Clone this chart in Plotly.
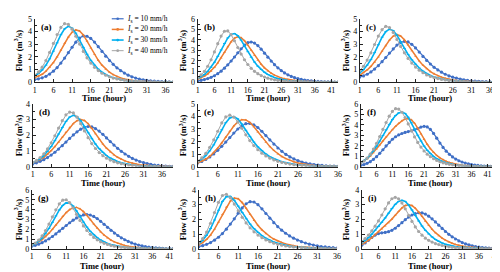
import plotly.graph_objects as go

# ---------------- data (flow, m3/s, hourly from hour 1) ----------------
a_10 = [0.20,0.26,0.34,0.46,0.63,0.86,1.15,1.50,1.90,2.32,2.75,3.15,3.48,3.65,3.62,3.45,3.16,2.80,2.42,2.05,1.70,1.40,1.13,0.90,0.71,0.55,0.42,0.32,0.24,0.18,0.13,0.10,0.07,0.05,0.04,0.03,0.02,0.01]
a_20 = [0.35,0.46,0.62,0.86,1.16,1.54,2.00,2.52,3.06,3.56,3.94,4.12,4.04,3.72,3.24,2.70,2.18,1.72,1.34,1.03,0.78,0.59,0.44,0.33,0.24,0.18,0.13,0.09,0.07,0.05,0.03,0.02,0.02,0.01,0.01,0.01,0.00,0.00]
a_30 = [0.50,0.68,0.96,1.34,1.84,2.44,3.10,3.74,4.20,4.40,4.26,3.86,3.32,2.74,2.20,1.72,1.33,1.02,0.78,0.59,0.45,0.34,0.26,0.19,0.14,0.10,0.07,0.05,0.04,0.03,0.02,0.02,0.01,0.01,0.01,0.00,0.00,0.00]
a_40 = [0.55,0.80,1.18,1.70,2.34,3.05,3.75,4.32,4.62,4.55,4.18,3.62,3.00,2.42,1.92,1.50,1.17,0.91,0.70,0.54,0.42,0.32,0.25,0.19,0.15,0.11,0.08,0.06,0.05,0.04,0.03,0.02,0.02,0.01,0.01,0.01,0.00,0.00]

b_10 = [0.12,0.17,0.24,0.33,0.45,0.60,0.80,1.04,1.32,1.64,2.00,2.38,2.78,3.16,3.50,3.74,3.80,3.70,3.46,3.12,2.74,2.36,1.99,1.65,1.35,1.09,0.87,0.69,0.54,0.42,0.32,0.25,0.19,0.14,0.11,0.08,0.06,0.04,0.03,0.02,0.02,0.01,0.01]
b_20 = [0.28,0.40,0.56,0.78,1.05,1.40,1.82,2.30,2.82,3.35,3.82,4.16,4.30,4.20,3.92,3.50,3.02,2.54,2.09,1.69,1.35,1.07,0.84,0.66,0.51,0.40,0.31,0.24,0.18,0.14,0.10,0.08,0.06,0.04,0.03,0.02,0.02,0.01,0.01,0.01,0.00,0.00,0.00]
b_30 = [0.35,0.50,0.72,1.02,1.40,1.88,2.44,3.05,3.66,4.18,4.52,4.60,4.40,3.98,3.44,2.88,2.36,1.90,1.51,1.19,0.93,0.72,0.56,0.43,0.33,0.25,0.19,0.15,0.11,0.08,0.06,0.05,0.04,0.03,0.02,0.02,0.01,0.01,0.01,0.00,0.00,0.00,0.00]
b_40 = [0.45,0.68,1.02,1.50,2.12,2.86,3.64,4.36,4.82,4.85,4.50,3.92,3.28,2.66,2.12,1.67,1.31,1.02,0.80,0.62,0.48,0.37,0.29,0.22,0.17,0.13,0.10,0.08,0.06,0.05,0.04,0.03,0.02,0.02,0.01,0.01,0.01,0.00,0.00,0.00,0.00,0.00,0.00]

c_10 = [0.40,0.49,0.62,0.80,1.03,1.30,1.61,1.94,2.29,2.62,2.92,3.13,3.22,3.17,2.98,2.70,2.37,2.03,1.71,1.43,1.17,0.96,0.78,0.62,0.49,0.39,0.31,0.24,0.18,0.14,0.10,0.08,0.06,0.04,0.03,0.02,0.02,0.01,0.01]
c_20 = [0.56,0.75,0.96,1.24,1.58,1.99,2.44,2.89,3.32,3.62,3.75,3.64,3.34,2.93,2.48,2.05,1.67,1.34,1.06,0.83,0.65,0.50,0.39,0.30,0.22,0.17,0.13,0.10,0.07,0.05,0.04,0.03,0.02,0.02,0.01,0.01,0.00,0.00,0.00]
c_30 = [0.72,0.98,1.34,1.78,2.33,2.95,3.54,3.98,4.18,4.07,3.70,3.19,2.66,2.18,1.76,1.41,1.11,0.87,0.68,0.53,0.41,0.32,0.24,0.19,0.14,0.11,0.09,0.07,0.04,0.03,0.03,0.02,0.01,0.01,0.01,0.00,0.00,0.00,0.00]
c_40 = [0.90,1.25,1.74,2.31,2.97,3.63,4.14,4.40,4.31,3.92,3.37,2.82,2.31,1.87,1.50,1.19,0.94,0.74,0.57,0.45,0.35,0.28,0.21,0.17,0.12,0.10,0.08,0.06,0.04,0.03,0.02,0.02,0.01,0.01,0.01,0.00,0.00,0.00,0.00]

d_10 = [0.18,0.25,0.34,0.45,0.58,0.74,0.92,1.12,1.34,1.57,1.80,2.02,2.22,2.39,2.51,2.56,2.53,2.43,2.27,2.06,1.83,1.60,1.38,1.17,0.98,0.81,0.66,0.53,0.42,0.33,0.26,0.20,0.15,0.11,0.08,0.06,0.04,0.03,0.02]
d_20 = [0.24,0.33,0.45,0.60,0.79,1.02,1.28,1.57,1.88,2.19,2.49,2.75,2.93,3.00,2.94,2.74,2.44,2.10,1.76,1.45,1.18,0.95,0.76,0.60,0.47,0.37,0.29,0.22,0.17,0.13,0.10,0.07,0.05,0.04,0.03,0.02,0.01,0.01,0.00]
d_30 = [0.25,0.35,0.50,0.70,0.96,1.28,1.66,2.08,2.50,2.88,3.16,3.27,3.18,2.92,2.56,2.16,1.78,1.44,1.15,0.91,0.71,0.55,0.43,0.33,0.25,0.19,0.15,0.11,0.08,0.06,0.05,0.04,0.03,0.02,0.01,0.01,0.01,0.00,0.00]
d_40 = [0.28,0.40,0.58,0.82,1.13,1.52,1.97,2.46,2.93,3.30,3.48,3.42,3.15,2.74,2.28,1.85,1.47,1.16,0.90,0.70,0.54,0.42,0.32,0.25,0.19,0.15,0.11,0.09,0.07,0.05,0.04,0.03,0.02,0.02,0.01,0.01,0.01,0.00,0.00]

e_10 = [0.30,0.42,0.58,0.78,1.02,1.30,1.62,1.96,2.32,2.68,3.00,3.26,3.42,3.45,3.34,3.12,2.82,2.48,2.13,1.80,1.49,1.22,0.98,0.78,0.62,0.48,0.37,0.29,0.22,0.17,0.13,0.10,0.07,0.05,0.04,0.03]
e_20 = [0.30,0.42,0.59,0.82,1.12,1.48,1.90,2.36,2.82,3.24,3.56,3.74,3.72,3.52,3.18,2.78,2.36,1.96,1.60,1.29,1.03,0.81,0.64,0.50,0.39,0.30,0.23,0.18,0.14,0.10,0.08,0.06,0.04,0.03,0.02,0.02]
e_30 = [0.40,0.60,0.88,1.26,1.74,2.32,2.94,3.50,3.88,3.98,3.80,3.40,2.90,2.40,1.96,1.58,1.27,1.01,0.80,0.64,0.51,0.40,0.32,0.25,0.20,0.15,0.12,0.09,0.07,0.05,0.04,0.03,0.02,0.02,0.01,0.01]
e_40 = [0.45,0.70,1.06,1.54,2.14,2.82,3.48,3.96,4.10,3.94,3.56,3.06,2.54,2.08,1.68,1.35,1.08,0.86,0.68,0.54,0.43,0.34,0.27,0.21,0.16,0.13,0.10,0.08,0.06,0.05,0.04,0.03,0.02,0.02,0.01,0.01]

f_10 = [0.12,0.20,0.32,0.48,0.70,0.96,1.28,1.62,1.98,2.32,2.62,2.86,3.04,3.17,3.27,3.35,3.43,3.52,3.64,3.78,3.86,3.80,3.56,3.18,2.72,2.26,1.84,1.48,1.18,0.93,0.73,0.57,0.45,0.35,0.27,0.21,0.16,0.12,0.09,0.07,0.05,0.04,0.03,0.02,0.01]
f_20 = [0.38,0.54,0.76,1.02,1.34,1.70,2.08,2.46,2.84,3.20,3.54,3.86,4.14,4.38,4.55,4.60,4.48,4.16,3.68,3.14,2.62,2.14,1.72,1.37,1.08,0.85,0.66,0.51,0.40,0.31,0.24,0.18,0.14,0.11,0.08,0.06,0.05,0.04,0.03,0.02,0.02,0.01,0.01,0.01,0.00]
f_30 = [0.38,0.56,0.80,1.12,1.50,1.95,2.45,2.98,3.52,4.04,4.50,4.88,5.14,5.22,5.08,4.72,4.20,3.60,3.00,2.45,1.97,1.57,1.24,0.98,0.77,0.60,0.47,0.37,0.29,0.22,0.17,0.13,0.10,0.08,0.06,0.05,0.04,0.03,0.02,0.02,0.01,0.01,0.01,0.00,0.00]
f_40 = [0.35,0.54,0.82,1.20,1.68,2.24,2.88,3.56,4.22,4.82,5.28,5.54,5.50,5.20,4.70,4.08,3.44,2.84,2.32,1.87,1.50,1.20,0.96,0.76,0.60,0.47,0.37,0.29,0.23,0.18,0.14,0.11,0.09,0.07,0.05,0.04,0.03,0.03,0.02,0.02,0.01,0.01,0.01,0.00,0.00]

g_10 = [0.27,0.36,0.48,0.63,0.81,1.02,1.26,1.52,1.80,2.09,2.38,2.66,2.92,3.15,3.34,3.46,3.50,3.45,3.30,3.08,2.80,2.50,2.19,1.89,1.61,1.36,1.13,0.93,0.76,0.61,0.49,0.39,0.30,0.23,0.18,0.14,0.10,0.08,0.06,0.04,0.03,0.02]
g_20 = [0.38,0.52,0.71,0.95,1.25,1.60,2.00,2.43,2.87,3.30,3.69,4.00,4.19,4.22,4.08,3.80,3.42,2.98,2.54,2.12,1.74,1.41,1.13,0.90,0.71,0.56,0.44,0.34,0.26,0.20,0.16,0.12,0.09,0.07,0.05,0.04,0.03,0.02,0.02,0.01,0.01,0.00]
g_30 = [0.35,0.52,0.76,1.10,1.54,2.08,2.70,3.36,3.96,4.42,4.68,4.66,4.36,3.86,3.28,2.72,2.22,1.79,1.43,1.14,0.90,0.71,0.56,0.44,0.35,0.27,0.21,0.17,0.13,0.10,0.08,0.06,0.05,0.04,0.03,0.02,0.02,0.01,0.01,0.01,0.00,0.00]
g_40 = [0.40,0.60,0.90,1.32,1.86,2.52,3.26,3.98,4.58,4.96,5.00,4.70,4.16,3.52,2.90,2.34,1.87,1.48,1.17,0.92,0.72,0.57,0.45,0.35,0.28,0.22,0.17,0.13,0.10,0.08,0.06,0.05,0.04,0.03,0.02,0.02,0.01,0.01,0.01,0.00,0.00,0.00]

h_10 = [0.15,0.22,0.31,0.43,0.59,0.79,1.04,1.34,1.68,2.04,2.42,2.78,3.06,3.20,3.18,3.00,2.72,2.40,2.08,1.78,1.51,1.27,1.06,0.88,0.73,0.60,0.49,0.40,0.32,0.26,0.21,0.16,0.13,0.10,0.08,0.06]
h_20 = [0.28,0.42,0.64,0.94,1.34,1.82,2.34,2.84,3.24,3.45,3.40,3.14,2.76,2.34,1.94,1.59,1.29,1.04,0.84,0.67,0.54,0.43,0.34,0.27,0.22,0.17,0.14,0.11,0.08,0.07,0.05,0.04,0.03,0.02,0.02,0.01]
h_30 = [0.35,0.58,0.92,1.38,1.96,2.62,3.22,3.54,3.56,3.30,2.90,2.46,2.04,1.68,1.37,1.11,0.90,0.73,0.59,0.47,0.38,0.30,0.24,0.19,0.15,0.12,0.10,0.08,0.06,0.05,0.04,0.03,0.02,0.02,0.01,0.01]
h_40 = [0.40,0.70,1.14,1.74,2.46,3.16,3.62,3.70,3.46,3.04,2.58,2.14,1.76,1.43,1.16,0.94,0.76,0.61,0.49,0.39,0.31,0.25,0.20,0.16,0.13,0.10,0.08,0.06,0.05,0.04,0.03,0.02,0.02,0.01,0.01,0.01]

i_10 = [0.25,0.40,0.58,0.78,0.94,1.04,1.09,1.12,1.17,1.26,1.40,1.58,1.78,1.98,2.16,2.30,2.40,2.45,2.44,2.36,2.22,2.04,1.83,1.61,1.39,1.18,0.99,0.82,0.67,0.54,0.43,0.34,0.27,0.21,0.16,0.12,0.09,0.07,0.05,0.04,0.03,0.02]
i_20 = [0.30,0.42,0.58,0.76,0.96,1.16,1.36,1.56,1.78,2.02,2.28,2.54,2.78,2.94,3.00,2.94,2.76,2.50,2.20,1.89,1.60,1.33,1.10,0.90,0.73,0.59,0.47,0.38,0.30,0.24,0.19,0.15,0.12,0.09,0.07,0.05,0.04,0.03,0.02,0.02,0.01,0.01]
i_30 = [0.40,0.56,0.76,1.00,1.26,1.52,1.80,2.10,2.42,2.74,3.02,3.22,3.30,3.22,2.98,2.64,2.26,1.89,1.55,1.26,1.01,0.81,0.64,0.51,0.40,0.32,0.25,0.20,0.16,0.12,0.10,0.08,0.06,0.05,0.04,0.03,0.02,0.02,0.01,0.01,0.01,0.00]
i_40 = [0.50,0.70,0.94,1.22,1.54,1.90,2.30,2.72,3.12,3.40,3.50,3.40,3.12,2.72,2.28,1.86,1.49,1.18,0.93,0.73,0.58,0.46,0.36,0.29,0.23,0.18,0.14,0.11,0.09,0.07,0.05,0.04,0.03,0.03,0.02,0.02,0.01,0.01,0.01,0.00,0.00,0.00]

series_names = ["<i>I</i><sub>s</sub> = 10 mm/h", "<i>I</i><sub>s</sub> = 20 mm/h",
                "<i>I</i><sub>s</sub> = 30 mm/h", "<i>I</i><sub>s</sub> = 40 mm/h"]
panel_labels = ["(a)", "(b)", "(c)", "(d)", "(e)", "(f)", "(g)", "(h)", "(i)"]
panel_data = [[a_10, a_20, a_30, a_40], [b_10, b_20, b_30, b_40], [c_10, c_20, c_30, c_40],
              [d_10, d_20, d_30, d_40], [e_10, e_20, e_30, e_40], [f_10, f_20, f_30, f_40],
              [g_10, g_20, g_30, g_40], [h_10, h_20, h_30, h_40], [i_10, i_20, i_30, i_40]]
y_max = [5, 6, 5, 4, 5, 6, 6, 4, 4]
x_tick_step = 5
x_title = "Time (hour)"
y_title = "Flow (m<sup>3</sup>/s)"

# ---------------- layout geometry (pixels in 500x272) ----------------
W, H = 500, 272
px_x = [(25, 165), (190, 332), (354, 497),
        (23, 165), (190, 332), (355, 496),
        (22, 165), (191, 331), (356, 495)]
px_y = [(7, 72.5), (95, 160), (184, 245)]
ytitle_x = [9, 175, 340]
xtitle_y = [88.5, 176.5, 263]

colors = ["#3F6FC6", "#ED7D31", "#00B0F0", "#A5A5A5"]
line_w = [1.2, 1.5, 1.6, 1.0]
markers = [dict(symbol="circle", size=3.2), dict(symbol="triangle-up", size=2.5),
           dict(symbol="line-ew", size=2, line=dict(width=1, color="#00B0F0")),
           dict(symbol="circle", size=3.2)]

SERIF = "Liberation Serif, Times New Roman, serif"
fig = go.Figure()
annotations = []
shapes = []

for k, series in enumerate(panel_data):
    row = k // 3
    ax = "" if k == 0 else str(k + 1)
    xa, ya = "x" + ax, "y" + ax
    n = len(series[0])
    for j, vals in enumerate(series):
        fig.add_trace(go.Scatter(
            x=list(range(1, len(vals) + 1)), y=vals, mode="lines+markers",
            name=series_names[j], showlegend=False,
            line=dict(color=colors[j], width=line_w[j]),
            marker=dict(color=colors[j], **markers[j]),
            xaxis=xa, yaxis=ya))
    x0, x1 = px_x[k]
    y0, y1 = px_y[row]
    ticks = list(range(1, n + 1, x_tick_step))
    fig.update_layout(**{
        ("xaxis" + ax): dict(domain=[x0 / W, x1 / W], range=[1, n], anchor=ya,
                             tickvals=ticks, ticktext=[str(t) for t in ticks],
                             showgrid=False, zeroline=False, showline=True,
                             linecolor="#222", linewidth=1, ticks="inside",
                             ticklen=3, tickcolor="#222",
                             tickfont=dict(family=SERIF, size=8, color="#000")),
        ("yaxis" + ax): dict(domain=[1 - y1 / H, 1 - y0 / H], range=[0, y_max[k]],
                             anchor=xa, dtick=1, showgrid=False, zeroline=False,
                             showline=True, linecolor="#222", linewidth=1,
                             ticks="inside", ticklen=3, tickcolor="#222",
                             minor=dict(dtick=0.5, ticks="inside", ticklen=2, tickcolor="#222"),
                             tickfont=dict(family=SERIF, size=8, color="#000")),
    })
    annotations.append(dict(text="<b>" + panel_labels[k] + "</b>", x=(x0 + 4) / W,
                            y=1 - (y0 + 1) / H, xref="paper", yref="paper",
                            xanchor="left", yanchor="top", showarrow=False,
                            font=dict(family=SERIF, size=9, color="#000")))
    annotations.append(dict(text="<b>" + x_title + "</b>", x=(x0 + x1) / 2 / W,
                            y=1 - xtitle_y[row] / H, xref="paper", yref="paper",
                            xanchor="center", yanchor="middle", showarrow=False,
                            font=dict(family=SERIF, size=8.5, color="#000")))
    annotations.append(dict(text="<b>" + y_title + "</b>", x=ytitle_x[k % 3] / W,
                            y=1 - (y0 + y1) / 2 / H, xref="paper", yref="paper",
                            xanchor="center", yanchor="middle", textangle=-90,
                            showarrow=False,
                            font=dict(family=SERIF, size=8.5, color="#000")))

# ---------------- legend key (panel a, top right) ----------------
leg_rows = [7, 18, 29, 40]
for j, name in enumerate(series_names):
    yy = 1 - leg_rows[j] / H
    shapes.append(dict(type="line", xref="paper", yref="paper",
                       x0=103 / W, x1=115 / W, y0=yy, y1=yy,
                       line=dict(color=colors[j], width=line_w[j])))
    r = 1.4
    shapes.append(dict(type="circle", xref="paper", yref="paper",
                       x0=(109 - r) / W, x1=(109 + r) / W,
                       y0=yy - r / H, y1=yy + r / H,
                       fillcolor=colors[j], line=dict(width=0)))
    annotations.append(dict(text=name, x=116.5 / W, y=yy, xref="paper", yref="paper",
                            xanchor="left", yanchor="middle", showarrow=False,
                            font=dict(family=SERIF, size=7.5, color="#000")))

fig.update_layout(
    width=W, height=H, margin=dict(l=0, r=0, t=0, b=0),
    paper_bgcolor="white", plot_bgcolor="white",
    annotations=annotations, shapes=shapes, showlegend=False,
)

fig.write_html("out.html")
